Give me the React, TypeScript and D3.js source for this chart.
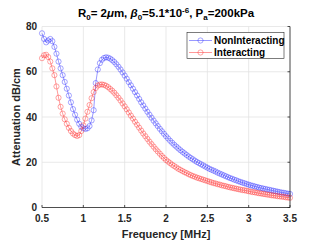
import React from "react";
import * as d3 from "d3";

// frequency samples [MHz]
const freq = [
  0.5, 0.525, 0.55, 0.575, 0.6, 0.625, 0.65, 0.675, 0.7, 0.725, 0.75, 0.775, 0.8, 0.825, 0.85, 0.875,
  0.9, 0.925, 0.95, 0.975, 1.0, 1.025, 1.05, 1.075, 1.1, 1.125, 1.15, 1.175, 1.2, 1.225, 1.25, 1.275,
  1.3, 1.325, 1.35, 1.375, 1.4, 1.425, 1.45, 1.475, 1.5, 1.525, 1.55, 1.575, 1.6, 1.625, 1.65, 1.675,
  1.7, 1.725, 1.75, 1.775, 1.8, 1.825, 1.85, 1.875, 1.9, 1.925, 1.95, 1.975, 2.0, 2.025, 2.05, 2.075,
  2.1, 2.125, 2.15, 2.175, 2.2, 2.225, 2.25, 2.275, 2.3, 2.325, 2.35, 2.375, 2.4, 2.425, 2.45, 2.475,
  2.5, 2.525, 2.55, 2.575, 2.6, 2.625, 2.65, 2.675, 2.7, 2.725, 2.75, 2.775, 2.8, 2.825, 2.85, 2.875,
  2.9, 2.925, 2.95, 2.975, 3.0, 3.025, 3.05, 3.075, 3.1, 3.125, 3.15, 3.175, 3.2, 3.225, 3.25, 3.275,
  3.3, 3.325, 3.35, 3.375, 3.4, 3.425, 3.45, 3.475, 3.5,
];

const nonInteracting = [
  77, 74.5, 73, 73.8, 74.5, 73.5, 71, 68, 64.5, 61.5, 58.5, 55.5, 52.5, 49.5, 46.5, 43.5,
  41, 38.8, 37, 35.7, 35, 34.7, 35, 36, 38.5, 43, 55, 61, 63.8, 65.3, 66.1, 66.4,
  66.2, 65.8, 65.1, 64.3, 63.3, 62.2, 61, 59.7, 58.3, 56.9, 55.4, 54, 52.5, 51, 49.5, 48,
  46.5, 45.1, 43.7, 42.3, 41, 39.7, 38.4, 37.2, 36, 34.8, 33.7, 32.6, 31.5, 30.5, 29.5, 28.6,
  27.7, 26.9, 26.1, 25.3, 24.6, 23.9, 23.2, 22.5, 21.9, 21.3, 20.7, 20.1, 19.6, 19.1, 18.6, 18.1,
  17.6, 17.1, 16.7, 16.3, 15.9, 15.4, 15, 14.6, 14.2, 13.8, 13.4, 13, 12.7, 12.3, 12, 11.6,
  11.3, 11, 10.7, 10.4, 10.1, 9.8, 9.6, 9.3, 9.1, 8.8, 8.6, 8.4, 8.2, 8, 7.8, 7.6,
  7.4, 7.2, 7, 6.8, 6.6, 6.5, 6.3, 6.1, 6.0,
];

const interacting = [
  66, 67.3, 67.5, 66.5, 64.5, 61.5, 58.5, 53.5, 48.5, 44.5, 41.5, 39, 37, 35.2, 33.8, 32.7,
  32, 31.6, 32, 33.8, 36.3, 39.3, 42.3, 45.3, 48.3, 51, 52.8, 53.9, 54.3, 54.4, 54.2, 53.8,
  53.2, 52.4, 51.6, 50.7, 49.6, 48.5, 47.3, 46, 44.7, 43.4, 42, 40.6, 39.3, 37.9, 36.6, 35.3,
  34, 32.7, 31.5, 30.3, 29.1, 28, 26.9, 25.8, 24.8, 23.8, 22.8, 21.9, 21, 20.3, 19.6, 18.9,
  18.3, 17.7, 17.1, 16.6, 16.1, 15.6, 15.2, 14.7, 14.3, 13.9, 13.6, 13.2, 12.9, 12.6, 12.3, 12,
  11.7, 11.4, 11.1, 10.8, 10.6, 10.3, 10.1, 9.8, 9.6, 9.4, 9.1, 8.9, 8.7, 8.5, 8.3, 8.1,
  7.9, 7.7, 7.6, 7.4, 7.2, 7, 6.8, 6.7, 6.5, 6.3, 6.2, 6, 5.9, 5.7, 5.6, 5.4,
  5.3, 5.2, 5, 4.9, 4.8, 4.7, 4.5, 4.4, 4.3,
];

const xTicks = [0.5, 1, 1.5, 2, 2.5, 3, 3.5];
const yTicks = [0, 20, 40, 60, 80];

const seriesNames = ["NonInteracting", "Interacting"];
const seriesColors = ["#2a2aff", "#ff2a2a"];

const W = 321;
const H = 241;
const left = 42;
const right = 290;
const top = 26.5;
const bottom = 207.5;
const font = "'Liberation Sans', Arial, sans-serif";

export default function App() {
  const x = d3.scaleLinear().domain([0.5, 3.5]).range([left, right]);
  const y = d3.scaleLinear().domain([0, 80]).range([bottom, top]);

  const series = [nonInteracting, interacting];
  const line = d3
    .line<number>()
    .x((_, i) => x(freq[i]))
    .y((d) => y(d));

  return (
    <svg
      width={W}
      height={H}
      style={{ position: "absolute", left: 0, top: 0, background: "#fff" }}
      fontFamily={font}
    >
      <rect width={W} height={H} fill="#fff" />

      {/* grid */}
      {xTicks.map((t) => (
        <line key={"gx" + t} x1={x(t)} x2={x(t)} y1={top} y2={bottom} stroke="#e3e3e3" strokeWidth={0.8} />
      ))}
      {yTicks.map((t) => (
        <line key={"gy" + t} x1={left} x2={right} y1={y(t)} y2={y(t)} stroke="#e3e3e3" strokeWidth={0.8} />
      ))}

      {/* data */}
      {series.map((s, k) => (
        <g key={seriesNames[k]}>
          <path d={line(s) || ""} fill="none" stroke={seriesColors[k]} strokeWidth={0.6} opacity={0.8} />
          {s.map((v, i) => (
            <circle
              key={i}
              cx={x(freq[i])}
              cy={y(v)}
              r={2.6}
              fill="none"
              stroke={seriesColors[k]}
              strokeWidth={0.6}
              opacity={0.7}
            />
          ))}
        </g>
      ))}

      {/* axes */}
      <line x1={left} x2={right} y1={bottom} y2={bottom} stroke="#262626" strokeWidth={0.8} />
      <line x1={right} x2={right} y1={top} y2={bottom} stroke="#262626" strokeWidth={0.8} />
      {xTicks.map((t) => (
        <g key={"tx" + t}>
          <line x1={x(t)} x2={x(t)} y1={bottom} y2={bottom - 2.5} stroke="#262626" strokeWidth={0.8} />
          <text x={x(t)} y={221.5} textAnchor="middle" fontSize={10} fontWeight="bold" fill="#262626">
            {t}
          </text>
        </g>
      ))}
      {yTicks.map((t) => (
        <g key={"ty" + t}>
          <line x1={right} x2={right - 2.5} y1={y(t)} y2={y(t)} stroke="#262626" strokeWidth={0.8} />
          <text x={37} y={y(t) + 3.5} textAnchor="end" fontSize={10} fontWeight="bold" fill="#262626">
            {t}
          </text>
        </g>
      ))}

      {/* labels */}
      <text x={166} y={238} textAnchor="middle" fontSize={11} fontWeight="bold" fill="#262626">
        Frequency [MHz]
      </text>
      <text
        transform={`translate(20,${(top + bottom) / 2}) rotate(-90)`}
        textAnchor="middle"
        fontSize={11}
        fontWeight="bold"
        fill="#262626"
      >
        Attenuation dB/cm
      </text>
      <text x={166} y={16.5} textAnchor="middle" fontSize={11.5} fontWeight="bold" fill="#000">
        R<tspan dy={3} fontSize={8}>0</tspan>
        <tspan dy={-3}>= 2</tspan>
        <tspan fontStyle="italic">μ</tspan>
        <tspan>m, </tspan>
        <tspan fontStyle="italic">β</tspan>
        <tspan dy={3} fontSize={8}>0</tspan>
        <tspan dy={-3}>=5.1*10</tspan>
        <tspan dy={-4} fontSize={8}>-6</tspan>
        <tspan dy={4}>, P</tspan>
        <tspan dy={3} fontSize={8}>a</tspan>
        <tspan dy={-3}>=200kPa</tspan>
      </text>

      {/* legend */}
      <rect x={187} y={32.5} width={97} height={26} fill="#fff" stroke="#262626" strokeWidth={0.6} />
      {seriesNames.map((n, k) => (
        <g key={"lg" + n}>
          <line x1={189} x2={212} y1={40.5 + k * 12} y2={40.5 + k * 12} stroke={seriesColors[k]} strokeWidth={0.6} opacity={0.8} />
          <circle cx={200.5} cy={40.5 + k * 12} r={2.6} fill="none" stroke={seriesColors[k]} strokeWidth={0.6} opacity={0.7} />
          <text x={214} y={44 + k * 12} fontSize={10} fontWeight="bold" fill="#000">
            {n}
          </text>
        </g>
      ))}
    </svg>
  );
}
